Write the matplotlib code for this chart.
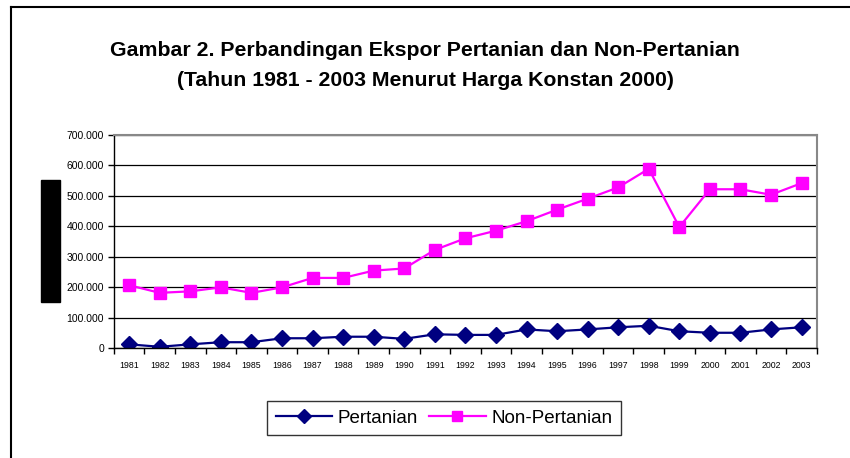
import matplotlib.pyplot as plt
import numpy as np
from matplotlib.patches import Rectangle
from matplotlib.lines import Line2D

plt.rcParams['font.family'] = ['Liberation Sans', 'DejaVu Sans']

tahun = [str(t) for t in range(1981, 2004)]
pertanian = [13, 5, 13, 20, 20, 33, 33, 38, 38, 31, 46, 44, 44, 62, 56, 62, 69, 74,
             56, 51, 51, 62, 69]
non_pertanian = [207, 182, 187, 200, 182, 200, 231, 231, 255, 262, 323, 361, 386, 417,
                 455, 491, 528, 589, 398, 522, 522, 504, 542]
y_ticks = [0, 100, 200, 300, 400, 500, 600, 700]
y_labels = ['0', '100.000', '200.000', '300.000', '400.000', '500.000', '600.000', '700.000']

fig = plt.figure(figsize=(8.5, 4.58), dpi=100)
ax = fig.add_axes([0.134, 0.2395, 0.827, 0.4657])

x = np.arange(len(tahun))
ax.plot(x, pertanian, color='#000080', lw=1.6, marker='D', ms=8, label='Pertanian')
ax.plot(x, non_pertanian, color='#FF00FF', lw=1.6, marker='s', ms=9, label='Non-Pertanian')

ax.set_xlim(-0.5, len(tahun) - 0.5)
ax.set_ylim(0, 700)
ax.set_yticks(y_ticks)
ax.set_yticklabels(y_labels, fontsize=7.5)
ax.set_xticks(x)
ax.set_xticklabels(tahun, fontsize=6.3)
ax.set_xticks(np.arange(-0.5, len(tahun)), minor=True)
ax.tick_params(axis='x', which='major', length=0, pad=9)
ax.tick_params(axis='x', which='minor', length=4, width=1, direction='out')
ax.tick_params(axis='y', length=4, width=1, direction='out', pad=3)
ax.grid(axis='y', color='black', lw=0.9)
ax.set_axisbelow(True)
for s in ['top', 'right']:
    ax.spines[s].set_color('#888888')
    ax.spines[s].set_linewidth(1.5)
for s in ['left', 'bottom']:
    ax.spines[s].set_color('black')
    ax.spines[s].set_linewidth(1)

fig.text(0.5, 1 - 51 / 458, 'Gambar 2. Perbandingan Ekspor Pertanian dan Non-Pertanian',
         ha='center', va='center', fontsize=15.3, fontweight='bold')
fig.text(0.5, 1 - 80 / 458, '(Tahun 1981 - 2003 Menurut Harga Konstan 2000)',
         ha='center', va='center', fontsize=15.3, fontweight='bold')

# black block at left (covered axis title)
fig.patches.append(Rectangle((41 / 850, 1 - 302 / 458), 19 / 850, 122 / 458,
                             transform=fig.transFigure, color='black'))
# outer frame lines (left and top)
fig.add_artist(Line2D([11 / 850, 11 / 850], [0, 1 - 7 / 458], transform=fig.transFigure,
                      color='black', lw=1.5))
fig.add_artist(Line2D([11 / 850, 1], [1 - 7 / 458, 1 - 7 / 458], transform=fig.transFigure,
                      color='black', lw=1.5))

leg = fig.legend(loc='center', bbox_to_anchor=(444 / 850, 1 - 418 / 458), ncol=2,
                 fontsize=13.5, frameon=True, fancybox=False, edgecolor='black',
                 handlelength=3, columnspacing=0.6, handletextpad=0.3, borderpad=0.45,
                 markerscale=0.85)
leg.get_frame().set_linewidth(1)

fig.savefig('out.png', dpi=100)
